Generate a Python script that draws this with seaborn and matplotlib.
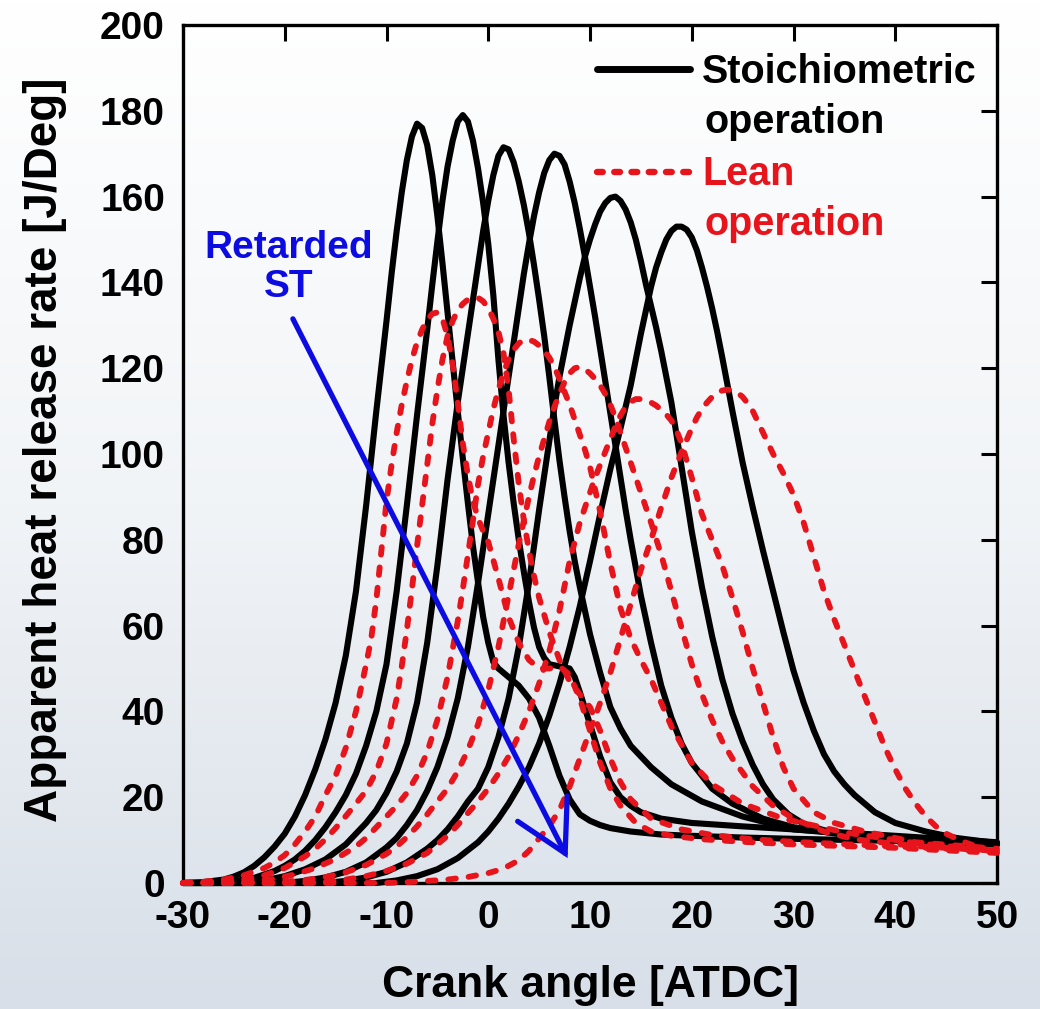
import numpy as np
import pandas as pd
import matplotlib
matplotlib.use("Agg")
import matplotlib.pyplot as plt
import seaborn as sns
from matplotlib.colors import LinearSegmentedColormap
from matplotlib.lines import Line2D

# ---------------- data ----------------
# Stoichiometric operation (solid black), spark timing retarded S1 -> S6
s1_x = [-30, -28, -26, -25, -24, -23, -22, -21, -20, -19, -18, -17, -16, -15, -14, -13, -12, -11, -10, -9.5,
        -9, -8.5, -8, -7.5, -7, -6.5, -6, -5.5, -5, -4.5, -4, -3.5, -3, -2.5, -2, -1.5, -1, -0.5, 0, 0.5,
        1, 1.5, 2, 3, 4, 5, 6, 7, 8, 9, 10, 11, 12, 14, 17, 20, 25, 30, 40, 50]
s1_y = [0, 0.2, 0.8, 1.5, 2.5, 4, 6, 8.5, 11.5, 15.5, 20.5, 26.5, 33.5, 42, 53, 68, 88, 110, 131, 142,
        152, 161, 168.5, 174, 177, 176, 172, 165, 155.5, 144.5, 133, 121.5, 110, 99, 88.5, 78.5, 70, 62, 56, 51.5,
        50, 49, 48, 46, 43, 38.5, 32, 25, 19.5, 16, 14.5, 13.5, 12.8, 12, 11.3, 11, 10.6, 10.3, 9.8, 9]

s2_x = [-30, -27, -25, -23, -21, -20, -19, -18, -17, -16, -15, -14, -13, -12, -11, -10, -9, -8, -7, -6,
        -5.5, -5, -4.5, -4, -3.5, -3, -2.5, -2, -1.5, -1, -0.5, 0, 0.5, 1, 1.5, 2, 2.5, 3, 3.5, 4,
        4.5, 5, 5.5, 6, 7, 8, 8.5, 9, 10, 11, 12, 13, 14, 15, 17, 20, 25, 30, 40, 50]
s2_y = [0, 0, 0.4, 1.2, 2.8, 4, 5.5, 7.5, 10, 13, 16.5, 20.5, 25.5, 32, 40, 51, 68, 88, 109, 129,
        139.5, 149.5, 159, 167, 173, 177.5, 179, 177.5, 173, 166.5, 158.5, 149, 137, 122, 109, 98, 88.5, 80, 72.5, 65.5,
        59.5, 55, 52.5, 51, 50.5, 50, 48, 44.5, 37, 29.5, 23.5, 20, 18, 16.5, 15, 14, 13.2, 12.5, 11, 9.5]

s3_x = [-30, -24, -22, -20, -18, -16, -14, -12, -11, -10, -9, -8, -7, -6, -5, -4, -3, -2, -1, -0.5, 0, 0.5, 1, 1.5, 2, 2.5, 3,
        3.5, 4, 4.5, 5, 5.5, 6, 6.5, 7, 7.5, 8, 8.5, 9, 10, 11, 12, 13, 14, 16, 18, 21, 25, 30, 40, 50]
s3_y = [0, 0, 0.6, 1.6, 3.2, 5.5, 9, 14, 17, 21, 26, 32.5, 42, 56, 74, 94, 112, 128, 144, 152, 159, 165, 169.5, 171.5, 171, 168, 163.5,
        158, 151.5, 144, 136, 127.5, 118, 108, 98.5, 90, 82, 75, 69, 58, 49, 41, 36, 32, 27, 23, 19, 15.5, 12.5, 10.5, 9]

s4_x = [-30, -20, -18, -16, -14, -12, -10, -9, -8, -7, -6, -5, -4, -3, -2, -1, 0, 1, 1.5, 2, 2.5, 3, 3.5, 4, 4.5, 5, 5.5,
        6, 6.5, 7, 7.5, 8, 8.5, 9, 9.5, 10, 10.5, 11, 11.5, 12, 12.5, 13, 13.5, 14, 15, 16, 17, 18, 19, 20, 22, 24, 27, 30, 35, 42, 50]
s4_y = [0, 0, 0.5, 1.3, 2.6, 4.8, 8.3, 10.5, 13.5, 17, 21.5, 27, 34, 43, 55, 70, 86, 102, 110, 118, 126, 134, 142, 149, 155.5, 161, 165.5,
        168.5, 170, 169.5, 167.5, 163.5, 158.5, 152.5, 146, 139, 132, 124.5, 117, 109.5, 102, 94.5, 87, 80, 67, 56, 46, 38.5, 32.5, 28, 22, 18.5, 15, 13, 11.2, 10, 9]

s5_x = [-30, -16, -14, -12, -10, -8, -6, -5, -4, -3, -2, -1, 0, 1, 2, 3, 4, 5, 6, 6.5, 7, 7.5, 8, 8.5, 9, 9.5, 10,
        10.5, 11, 11.5, 12, 12.5, 13, 13.5, 14, 14.5, 15, 15.5, 16, 16.5, 17, 17.5, 18, 19, 20, 21, 22,
        23, 24, 25, 26, 27, 28, 29.5, 31, 33, 36, 40, 45, 50]
s5_y = [0, 0, 0.5, 1.3, 2.6, 4.8, 8, 10, 12.5, 15.5, 19, 22, 27, 34, 43, 55, 70, 87, 103, 111, 118, 124, 130, 135.5, 141, 146, 150,
        153.5, 156.5, 158.5, 159.7, 160, 159, 157, 154, 150, 145, 139.5, 134.5, 129.5, 124, 118, 112, 97, 82, 69, 57.5,
        47.5, 39.5, 33, 27.5, 23, 19.5, 16, 13.8, 12.3, 11.2, 10.4, 9.8, 9.3]

s6_x = [-30, -11, -9, -7, -5, -3, -1, 0, 1, 2, 3, 4, 5, 6, 7, 8, 9, 10, 11, 12, 13, 14, 15, 16, 16.5, 17, 17.5,
        18, 18.5, 19, 19.5, 20, 20.5, 21, 21.5, 22, 22.5, 23, 24, 25, 26, 27, 28, 29, 30, 31, 32,
        33, 34, 35, 36, 38, 40, 43, 46, 50]
s6_y = [0, 0, 0.6, 1.6, 3.2, 5.8, 9.5, 12, 15, 18.5, 22.5, 27, 32.5, 39, 46.5, 55, 64.5, 75, 86, 96.5, 106, 116, 128, 139, 143.5, 147, 150,
        152, 153, 153, 152.3, 150.5, 147.5, 143.5, 139, 134, 128.5, 122.5, 110, 98, 87.5, 77.5, 68, 58.5, 49.5, 42, 35.5,
        30, 26, 23, 20.5, 16.5, 14, 12, 10.5, 9.3]

# Lean operation (red dashed), spark timing retarded L1 -> L6
l1_x = [-30, -28, -26, -24, -22, -21, -20, -19, -18, -17, -16, -15, -14, -13, -12, -11.5, -11, -10.5, -10, -9.5, -9, -8.5, -8, -7.5, -7, -6.5,
        -6, -5.5, -5, -4.5, -4, -3.5, -3, -2.5, -2, -1.5, -1, -0.5, 0, 1, 2, 3, 4, 5, 6, 7, 8, 9, 10, 11, 12, 13, 14.5, 16, 18, 21, 25, 30, 40, 50]
l1_y = [0, 0.3, 0.8, 1.8, 3.5, 4.8, 6.5, 9, 12, 15.5, 20.5, 25, 31.5, 40, 51, 57, 66, 77.5, 89, 97.5, 105, 111.5, 117, 122, 126, 129,
        131.3, 132.7, 133, 131.5, 127.5, 121, 112, 102.5, 95, 89, 85, 82, 79.5, 71, 62, 56, 52, 50, 50, 50.5, 48.5, 43, 35.5, 28, 22, 18, 14, 12, 11, 10.2, 9.6, 9, 8.2, 7]

l2_x = [-30, -28, -26, -24, -22, -20, -18, -17, -16, -15, -14, -13, -12, -11, -10, -9, -8.5, -8, -7.5, -7, -6.5, -6, -5.5, -5, -4.5, -4, -3.5,
        -3, -2.5, -2, -1.5, -1, -0.5, 0, 0.5, 1, 1.5, 2, 2.5, 3, 3.5, 4, 4.5, 5, 6, 7, 8, 9, 10, 11, 12, 13, 14, 16, 19, 22, 26, 30, 40, 50]
l2_y = [0, 0, 0.3, 0.8, 1.8, 3.5, 6.2, 8, 10.2, 12.8, 15.6, 18.5, 21.5, 26, 32.5, 43, 50.5, 59, 68.5, 78.5, 88, 97.5, 107, 115, 122, 127.5, 131,
        133.5, 135, 136, 136.4, 136.4, 135.6, 134, 131.5, 128.5, 123.5, 115, 103.5, 93, 84.5, 77.5, 71.5, 66.5, 58.5, 52, 47, 44, 41, 35.5, 29, 23.5, 19.5, 15, 12.5, 11.2, 10.2, 9.6, 8.5, 7.5]

l3_x = [-30, -25, -23, -21, -19, -17, -15, -13, -12, -11, -10, -9, -8, -7, -6, -5, -4, -3, -2.5, -2, -1.5, -1, -0.5, 0, 0.5, 1, 1.5,
        2, 2.5, 3, 3.5, 4, 4.5, 5, 5.5, 6, 6.5, 7, 7.5, 8, 8.5, 9, 9.5, 10, 11, 12, 13, 14, 15, 16, 17, 18, 20, 22, 25, 29, 35, 42, 50]
l3_y = [0, 0, 0.4, 1, 2, 3.5, 5.6, 8.5, 10.5, 13, 15.5, 18, 21, 25, 30.5, 38, 48, 61, 68.5, 76.5, 84.5, 93, 99.5, 105, 110.5, 115, 119,
        122, 124.3, 125.8, 126.6, 126.6, 126.2, 125.3, 124, 122.5, 120.3, 117.5, 114.5, 111.5, 108, 104.5, 101, 97, 86.5, 74.5, 64, 57, 52, 47.5, 42, 36.5, 28, 23, 18.5, 15, 11.8, 9.3, 7.5]

l4_x = [-30, -22, -20, -18, -16, -14, -12, -10, -9, -8, -7, -6, -5, -4, -3, -2, -1, 0, 1, 2, 3, 4, 4.5, 5, 5.5, 6, 6.5,
        7, 7.5, 8, 8.5, 9, 9.5, 10, 10.5, 11, 11.5, 12, 12.5, 13, 14, 15, 16, 17, 18, 19, 20,
        21, 22, 23, 24, 26, 28, 30, 33, 36, 42, 50]
l4_y = [0, 0, 0.3, 0.7, 1.4, 2.5, 4.2, 6.8, 8.5, 10.7, 13.2, 16, 19, 22, 26, 31, 37, 45, 55, 67, 79, 90, 95, 99.5, 103.5, 107.5, 111,
        114, 116.8, 118.8, 120, 120.3, 119.8, 118.8, 117.5, 116, 114, 111.5, 108.5, 105, 98, 91, 84, 76.5, 68, 59.5, 51,
        44, 38, 33, 29, 22.5, 18, 15, 12, 10.2, 8.6, 7.5]

l5_x = [-30, -18, -16, -14, -12, -10, -8, -6, -4, -3, -2, -1, 0, 1, 2, 3, 4, 5, 6, 7, 8, 9, 10, 10.5, 11, 11.5, 12,
        12.5, 13, 13.5, 14, 14.5, 15, 15.5, 16, 16.5, 17, 17.5, 18, 18.5, 19, 20, 21, 22, 23, 24, 25,
        26, 27, 28, 29, 30, 32, 34, 37, 42, 50]
l5_y = [0, 0, 0.3, 0.8, 1.6, 2.8, 4.5, 7, 11, 13.5, 16.3, 19, 22, 25.5, 29.5, 34.5, 40, 46.5, 54, 63.5, 75, 84, 91, 94.5, 97.5, 100.5, 103.5,
        106.5, 109, 111, 112.2, 112.8, 112.8, 112.5, 112, 111.3, 110.3, 109.2, 107.8, 105.5, 102.5, 94.5, 86, 80, 74, 66.5, 58.5,
        50, 42, 34, 27, 22, 16.5, 14, 12, 9.5, 8]

l6_x = [-30, -10, -7, -4, -2, 0, 1, 2, 3, 4, 5, 6, 7, 8, 9, 10, 11, 12, 13, 14, 15, 16, 17, 18, 19, 20, 20.5,
        21, 21.5, 22, 22.5, 23, 23.5, 24, 24.5, 25, 25.5, 26, 27, 28, 29, 30, 31, 32, 33, 34, 35,
        36, 37, 38, 39, 40, 41, 42, 43, 44, 45, 46.5, 48, 50]
l6_y = [0, 0, 0.3, 0.8, 1.4, 2.3, 3, 4, 5.3, 7.5, 10.4, 13.3, 17, 22.5, 29, 35.5, 42, 49, 57, 65, 73, 80, 87.5, 94.5, 100.5, 106, 108.5,
        110.5, 112, 113.3, 114.3, 114.8, 115, 114.8, 114.3, 113.3, 111.8, 110, 105, 100, 95.5, 90.5, 84, 76, 68, 61.5, 55.5,
        49.5, 43.5, 37.5, 31.5, 26.5, 22, 18.5, 15.5, 13.2, 11.5, 9.8, 8.5, 7]

x_ticks = [-30, -20, -10, 0, 10, 20, 30, 40, 50]
y_ticks = [0, 20, 40, 60, 80, 100, 120, 140, 160, 180, 200]
x_label = "Crank angle [ATDC]"
y_label = "Apparent heat release rate [J/Deg]"
legend_labels = [("Stoichiometric", "operation"), ("Lean", "operation")]
arrow_text = "Retarded\nST"
arrow_start = (-19.2, 131.5)
arrow_end = (7.8, 5.8)

# ---------------- build long table ----------------
series = [
    ("S1", "Stoichiometric", s1_x, s1_y), ("S2", "Stoichiometric", s2_x, s2_y),
    ("S3", "Stoichiometric", s3_x, s3_y), ("S4", "Stoichiometric", s4_x, s4_y),
    ("S5", "Stoichiometric", s5_x, s5_y), ("S6", "Stoichiometric", s6_x, s6_y),
    ("L1", "Lean", l1_x, l1_y), ("L2", "Lean", l2_x, l2_y),
    ("L3", "Lean", l3_x, l3_y), ("L4", "Lean", l4_x, l4_y),
    ("L5", "Lean", l5_x, l5_y), ("L6", "Lean", l6_x, l6_y),
]
rows = []
for name, op, xs, ys in series:
    assert len(xs) == len(ys), name
    for xv, yv in zip(xs, ys):
        rows.append({"curve": name, "op": op, "x": xv, "y": yv})
df = pd.DataFrame(rows)

# ---------------- style ----------------
sns.set_theme(style="white")
plt.rcParams['font.family'] = ['Liberation Sans', 'DejaVu Sans']
plt.rcParams['font.weight'] = 'bold'
plt.rcParams['axes.unicode_minus'] = False

BLACK = "#000000"
RED = "#e8141c"
BLUE = "#0c0ce2"

W, H = 1040, 1009
fig = plt.figure(figsize=(W / 100, H / 100), dpi=100)

# background gradient
bg = fig.add_axes([0, 0, 1, 1], zorder=-10)
grad = np.linspace(0, 1, 256).reshape(-1, 1)
cmap = LinearSegmentedColormap.from_list("bg", ["#ffffff", "#f1f4f7", "#d8dfe8"])
bg.imshow(grad, aspect="auto", cmap=cmap, extent=[0, 1, 0, 1], origin="upper")
bg.axis("off")

L, R, T, B = 183, 997, 25, 883
ax = fig.add_axes([L / W, 1 - B / H, (R - L) / W, (B - T) / H])
ax.patch.set_alpha(0)

sns.lineplot(data=df, x="x", y="y", hue="op", style="op", units="curve",
             estimator=None, sort=False,
             palette={"Stoichiometric": BLACK, "Lean": RED},
             dashes={"Stoichiometric": "", "Lean": (1.3, 2.2)},
             hue_order=["Stoichiometric", "Lean"],
             linewidth=4.4, legend=False, ax=ax)

for ln in ax.lines:
    c = matplotlib.colors.to_hex(ln.get_color())
    ln.set_clip_on(False)
    if c.lower() == RED.lower():
        ln.set_linewidth(4.2)
        ln.set_zorder(4)
        ln.set_dash_capstyle("round")
        ln.set_dash_joinstyle("round")
    else:
        ln.set_linewidth(4.4)
        ln.set_zorder(3)
        ln.set_solid_joinstyle("round")
        ln.set_solid_capstyle("round")

ax.set_xlim(-30, 50)
ax.set_ylim(0, 200)
ax.set_xticks(x_ticks)
ax.set_yticks(y_ticks)
ax.set_xticklabels([str(v) for v in x_ticks])
ax.set_yticklabels([str(v) for v in y_ticks])
ax.tick_params(axis="both", direction="in", length=11.5, width=2.2,
               top=True, right=True, colors="black", labelsize=28)
ax.tick_params(axis="x", pad=12)
ax.tick_params(axis="y", pad=13)
for lbl in ax.get_xticklabels() + ax.get_yticklabels():
    lbl.set_fontweight("bold")
for sp in ax.spines.values():
    sp.set_visible(True)
    sp.set_color("black")
    sp.set_linewidth(2.4)
    sp.set_zorder(2.5)

ax.set_xlabel(x_label, fontsize=32, fontweight="bold", color="black")
ax.set_ylabel(y_label, fontsize=33, fontweight="bold", color="black")
ax.xaxis.label.set_va("center")
ax.yaxis.label.set_va("center")
ax.xaxis.set_label_coords(0.5, (B - 985) / (B - T))
ax.yaxis.set_label_coords((45 - L) / (R - L), (B - 450) / (B - T))

# annotation arrow
ax.annotate("", xy=arrow_end, xytext=arrow_start,
            arrowprops=dict(arrowstyle="->,head_length=0.9,head_width=0.5",
                            color=BLUE, lw=3.8, mutation_scale=40,
                            shrinkA=0, shrinkB=0, joinstyle="miter"),
            zorder=6)
ax.text(-19.6, 143.5, arrow_text, color=BLUE, fontsize=28, fontweight="bold",
        ha="center", va="center", linespacing=1.08, zorder=6)

# legend drawn by hand
def fx(px):
    return px / W

def fy(py):
    return 1 - py / H

fig.add_artist(Line2D([fx(597), fx(690)], [fy(69), fy(69)], color=BLACK, lw=5.0,
                      solid_capstyle="round"))
fig.add_artist(Line2D([fx(597), fx(690)], [fy(172), fy(172)], color=RED, lw=4.6,
                      dashes=(0.9, 1.8), dash_capstyle="round"))
fs_leg = 28.5
fig.text(fx(702), fy(83), legend_labels[0][0], color=BLACK, fontsize=fs_leg,
         fontweight="bold", ha="left", va="baseline")
fig.text(fx(704), fy(133), legend_labels[0][1], color=BLACK, fontsize=fs_leg,
         fontweight="bold", ha="left", va="baseline")
fig.text(fx(702), fy(185), legend_labels[1][0], color=RED, fontsize=fs_leg,
         fontweight="bold", ha="left", va="baseline")
fig.text(fx(704), fy(235), legend_labels[1][1], color=RED, fontsize=fs_leg,
         fontweight="bold", ha="left", va="baseline")

fig.savefig("out.png", dpi=100)
